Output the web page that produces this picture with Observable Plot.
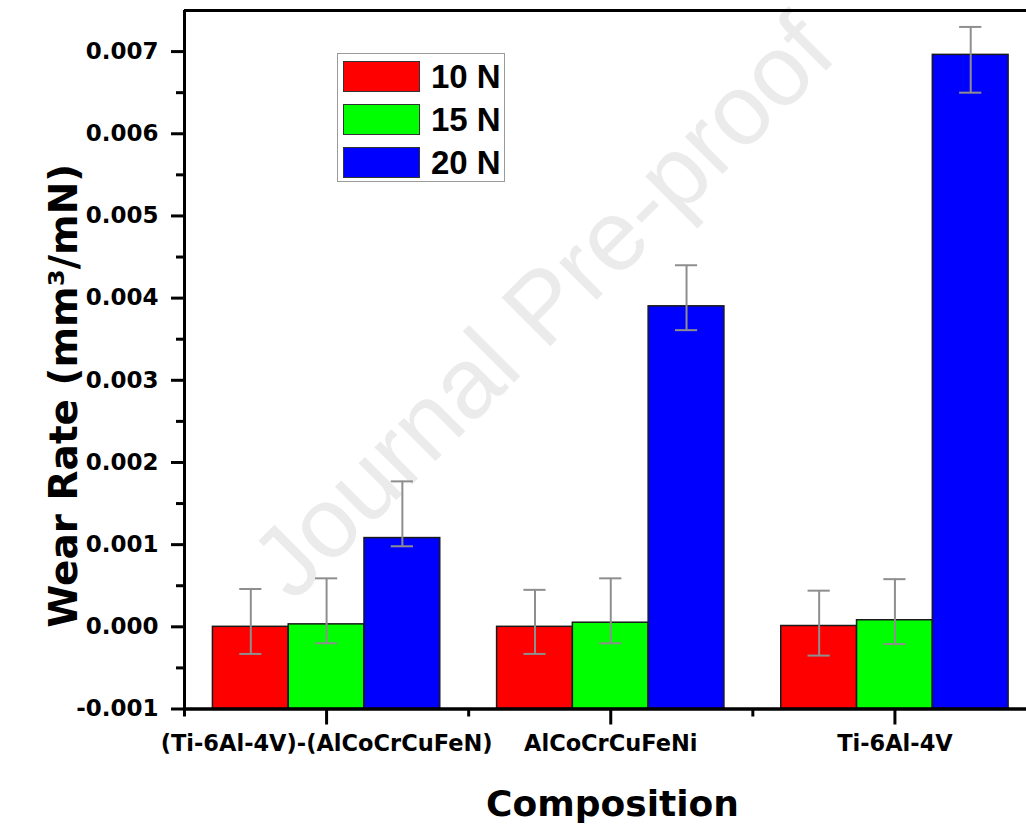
<!DOCTYPE html>
<html>
<head>
<meta charset="utf-8">
<script src="https://cdn.jsdelivr.net/npm/d3@7"></script>
<script src="https://cdn.jsdelivr.net/npm/@observablehq/plot@0.6"></script>
<style>
  html, body { margin: 0; padding: 0; background: #fff; }
  #wrap { position: relative; width: 1026px; height: 826px; overflow: hidden; }
  #wrap svg { font-family: "DejaVu Sans", sans-serif; font-weight: bold; }
  #legend {
    position: absolute; left: 337px; top: 53px; width: 166px; height: 127px;
    border: 1.5px solid #9a9a9a; background: #fff; box-sizing: content-box;
    font-family: "Liberation Sans", Arial, sans-serif; font-weight: bold;
  }
  .row { position: absolute; left: 5px; height: 31px; display: flex; align-items: center; }
  .sw { width: 75px; height: 29px; border: 1.5px solid #333; }
  .lab { margin-left: 11px; font-size: 33px; line-height: 31px; color: #000; }
</style>
</head>
<body>
<div id="wrap"></div>
<script>
// ---- data ----
const compositions = ["(Ti-6Al-4V)-(AlCoCrCuFeN)", "AlCoCrCuFeNi", "Ti-6Al-4V"];
const loads = ["10 N", "15 N", "20 N"];
const loadColors = ["#ff0000", "#00ff00", "#0000ff"];

const wear10 = [0.0, 0.0, 0.00001];
const wear15 = [0.00003, 0.00005, 0.00008];
const wear20 = [0.00108, 0.0039, 0.00696];

const errLow10  = [-0.00033, -0.00033, -0.00035];
const errHigh10 = [0.00046, 0.00045, 0.00044];
const errLow15  = [-0.0002, -0.0002, -0.00021];
const errHigh15 = [0.00059, 0.00059, 0.00058];
const errLow20  = [0.00098, 0.00361, 0.0065];
const errHigh20 = [0.00177, 0.0044, 0.0073];

const yMajorTicks = [-0.001, 0, 0.001, 0.002, 0.003, 0.004, 0.005, 0.006, 0.007];
const yMinorTicks = [-0.0005, 0.0005, 0.0015, 0.0025, 0.0035, 0.0045, 0.0055, 0.0065];
const yDomain = [-0.001, 0.0075];

const xLabel = "Composition";
const yLabel = "Wear Rate (mm³/mN)";
const watermark = "Journal Pre-proof";

// ---- build table ----
const series = [
  {values: wear10, lo: errLow10, hi: errHigh10},
  {values: wear15, lo: errLow15, hi: errHigh15},
  {values: wear20, lo: errLow20, hi: errHigh20}
];
const groupPad = 0.1;
const barW = (1 - 2 * groupPad) / loads.length;
const capHalf = 0.039;
const rows = [];
compositions.forEach((c, gi) => {
  loads.forEach((l, li) => {
    const x1 = gi + groupPad + li * barW;
    rows.push({
      composition: c, load: l, color: loadColors[li],
      x1, x2: x1 + barW, xc: x1 + barW / 2,
      value: series[li].values[gi], lo: series[li].lo[gi], hi: series[li].hi[gi]
    });
  });
});
const xMajor = compositions.map((_, i) => i + 0.5);
const xMinor = compositions.map((_, i) => i);

const chart = Plot.plot({
  width: 1026,
  height: 826,
  marginLeft: 184,
  marginRight: 0,
  marginTop: 10,
  marginBottom: 117.5,
  x: {domain: [0, 2.963], label: null},
  y: {domain: yDomain, label: null},
  marks: [
    Plot.text([watermark], {
      frameAnchor: "middle", dx: -62, dy: -52, rotate: -45,
      fontSize: 100, fontFamily: "Liberation Sans", fontWeight: "normal",
      fill: "#ebebeb"
    }),
    Plot.rectY(rows, {
      x1: "x1", x2: "x2", y1: yDomain[0], y2: "value",
      fill: "color", stroke: "#1a1a1a", strokeWidth: 1.5
    }),
    Plot.ruleX(rows, {x: "xc", y1: "lo", y2: "hi", stroke: "#8e8e8e", strokeWidth: 2}),
    Plot.ruleY(rows, {y: "hi", x1: d => d.xc - capHalf, x2: d => d.xc + capHalf, stroke: "#8e8e8e", strokeWidth: 2}),
    Plot.ruleY(rows, {y: "lo", x1: d => d.xc - capHalf, x2: d => d.xc + capHalf, stroke: "#8e8e8e", strokeWidth: 2}),
    Plot.axisY({
      anchor: "left", ticks: yMajorTicks, tickSize: 13, tickPadding: 13,
      tickFormat: d => d.toFixed(3), fontSize: 23, strokeWidth: 3, label: null
    }),
    Plot.axisY({
      anchor: "left", ticks: yMinorTicks, tickSize: 8, tickFormat: () => "",
      strokeWidth: 3, label: null
    }),
    Plot.axisX({
      anchor: "bottom", ticks: xMajor, tickSize: 16, tickPadding: 10,
      tickFormat: d => compositions[Math.floor(d)], fontSize: 22.5, strokeWidth: 3, label: null
    }),
    Plot.axisX({
      anchor: "bottom", ticks: xMinor, tickSize: 8, tickFormat: () => "",
      strokeWidth: 3, label: null
    }),
    Plot.ruleX([0], {strokeWidth: 3, stroke: "#000"}),
    Plot.ruleY([yDomain[0]], {strokeWidth: 3.5, stroke: "#000"}),
    Plot.ruleY([yDomain[1]], {strokeWidth: 3, stroke: "#000"}),
    Plot.text([yLabel], {
      frameAnchor: "left", textAnchor: "middle", rotate: -90, dx: -120, dy: 36,
      fontSize: 39, fill: "#000"
    }),
    Plot.text([xLabel], {
      frameAnchor: "bottom", textAnchor: "middle", lineAnchor: "top", dx: 7, dy: 81,
      fontSize: 36, fill: "#000"
    })
  ]
});

const wrap = document.getElementById("wrap");
wrap.appendChild(chart);

// legend (HTML, over the plot area)
const legend = document.createElement("div");
legend.id = "legend";
loads.forEach((l, i) => {
  const row = document.createElement("div");
  row.className = "row";
  row.style.top = (7 + i * 43) + "px";
  const sw = document.createElement("div");
  sw.className = "sw";
  sw.style.background = loadColors[i];
  const lab = document.createElement("span");
  lab.className = "lab";
  lab.textContent = l;
  row.appendChild(sw);
  row.appendChild(lab);
  legend.appendChild(row);
});
wrap.appendChild(legend);
</script>
</body>
</html>
